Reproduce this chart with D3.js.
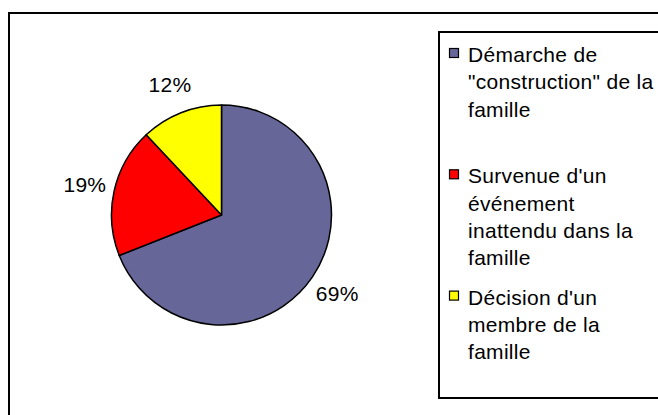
<!DOCTYPE html>
<html>
<head>
<meta charset="utf-8">
<script src="https://cdn.jsdelivr.net/npm/d3@7"></script>
<style>
  body { margin: 0; background: #fff; }
  text { font-family: "Liberation Sans", Arial, sans-serif; fill: #000; letter-spacing: 0.3px; }
</style>
</head>
<body>
<div id="chart"></div>
<script>
var w = 658;
var h = 415;

// data
var categories = [
  "Démarche de\n\"construction\" de la\nfamille",
  "Survenue d'un\névénement\ninattendu dans la\nfamille",
  "Décision d'un\nmembre de la\nfamille"
];
var values = [69, 19, 12];
var labels = ["69%", "19%", "12%"];
var colors = ["#666699", "#ff0000", "#ffff00"];

var cx = 221.5;
var cy = 215;
var radius = 110;
var labelRadius = 140;
var fontSize = 21;

var svg = d3.select("#chart").append("svg").attr("width", w).attr("height", h);

// outer chart frame
svg
  .append("rect")
  .attr("x", 9)
  .attr("y", 13)
  .attr("width", 700)
  .attr("height", 450)
  .attr("fill", "#fff")
  .attr("stroke", "#000")
  .attr("stroke-width", 2);

var pie = d3.pie().sort(null).value(function (d) {
  return d;
});
var arcs = pie(values);

var arc = d3.arc().innerRadius(0).outerRadius(radius);
var labelArc = d3.arc().innerRadius(labelRadius).outerRadius(labelRadius);

var g = svg.append("g").attr("transform", "translate(" + cx + "," + cy + ")");

g.selectAll("path")
  .data(arcs)
  .enter()
  .append("path")
  .attr("d", arc)
  .attr("fill", function (d, i) {
    return colors[i];
  })
  .attr("stroke", "#000")
  .attr("stroke-width", 1.5)
  .attr("stroke-linejoin", "round");

g.selectAll("text")
  .data(arcs)
  .enter()
  .append("text")
  .text(function (d, i) {
    return labels[i];
  })
  .attr("x", function (d) {
    return labelArc.centroid(d)[0];
  })
  .attr("y", function (d) {
    return labelArc.centroid(d)[1] + fontSize * 0.36;
  })
  .attr("font-size", fontSize + "px")
  .attr("text-anchor", "middle");

// legend
var legendX = 439;
var legendY = 32;
var legendH = 366;
var entryPitch = 121.3;
var lineH = 27.4;

svg
  .append("rect")
  .attr("x", legendX)
  .attr("y", legendY)
  .attr("width", 300)
  .attr("height", legendH)
  .attr("fill", "#fff")
  .attr("stroke", "#000")
  .attr("stroke-width", 2);

var entry = svg
  .selectAll(".entry")
  .data(categories)
  .enter()
  .append("g")
  .attr("class", "entry")
  .attr("transform", function (d, i) {
    return "translate(" + legendX + "," + (legendY + 30 + i * entryPitch) + ")";
  });

entry
  .append("rect")
  .attr("x", 10.5)
  .attr("y", -13.5)
  .attr("width", 9)
  .attr("height", 9)
  .attr("fill", function (d, i) {
    return colors[i];
  })
  .attr("stroke", "#000")
  .attr("stroke-width", 1.2);

entry
  .append("text")
  .attr("font-size", fontSize + "px")
  .selectAll("tspan")
  .data(function (d) {
    return d.split("\n");
  })
  .enter()
  .append("tspan")
  .attr("x", 29)
  .attr("y", function (d, i) {
    return i * lineH;
  })
  .text(function (d) {
    return d;
  });
</script>
</body>
</html>
